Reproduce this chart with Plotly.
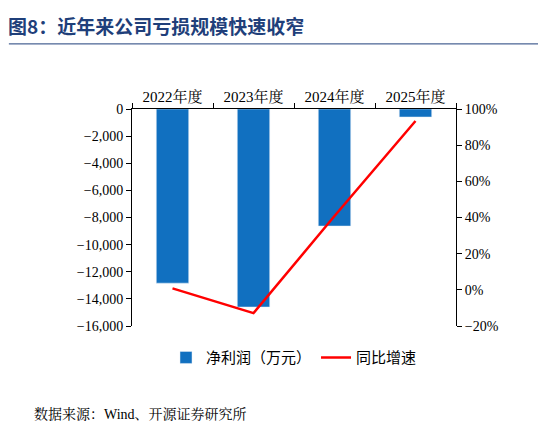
import plotly.graph_objects as go

years = ["2022年度", "2023年度", "2024年度", "2025年度"]
net_profit = [-12840, -14600, -8630, -590]
growth = [0.8, -12.9, 40.8, 93.4]

serif = "Times New Roman, Liberation Serif, Noto Serif CJK SC, Noto Sans CJK SC"
fig = go.Figure()
fig.add_trace(go.Bar(x=years, y=net_profit, name="净利润（万元）", marker_color="#1170C0",
                     width=0.4, yaxis="y"))
fig.add_trace(go.Scatter(x=years, y=growth, name="同比增速", mode="lines",
                         line=dict(color="#FF0000", width=2.5), yaxis="y2"))
fig.update_layout(
    width=546, height=422, paper_bgcolor="white", plot_bgcolor="white",
    margin=dict(l=124, r=98, t=101, b=104, autoexpand=False),
    font=dict(family=serif, size=14, color="black"),
    xaxis=dict(side="top", showline=True, linecolor="black", ticks="outside",
               tickson="boundaries", ticklen=5, tickcolor="black", tickfont=dict(size=15)),
    yaxis=dict(range=[-16000, 0], dtick=2000, tickformat=",", showgrid=False, zeroline=False,
               showline=True, linecolor="black", ticks="outside", ticklen=5, tickcolor="black"),
    yaxis2=dict(range=[-20, 100], dtick=20, ticksuffix="%", overlaying="y", side="right",
                showgrid=False, zeroline=False, showline=True, linecolor="black",
                ticks="outside", ticklen=5, tickcolor="black"),
    legend=dict(orientation="h", x=0.5, xanchor="center", y=-0.07, yanchor="top",
                font=dict(size=15, family="Noto Sans CJK SC")),
    showlegend=True,
    annotations=[
        dict(text="<b>图8：近年来公司亏损规模快速收窄</b>", xref="paper", yref="paper",
             x=0, xshift=-126, y=1, yshift=99, xanchor="left", yanchor="top", showarrow=False,
             font=dict(size=19, color="#1F3F7A", family="Noto Sans CJK SC")),
        dict(text="数据来源：Wind、开源证券研究所", xref="paper", yref="paper",
             x=0, xshift=-100, y=0, yshift=-78, xanchor="left", yanchor="top", showarrow=False,
             font=dict(size=14, family=serif)),
    ],
    shapes=[dict(type="line", xref="paper", yref="paper", x0=-0.38, x1=1.3,
                 y0=1.30, y1=1.30, line=dict(color="#1F3F7A", width=1))],
)
fig.write_html("out.html")
